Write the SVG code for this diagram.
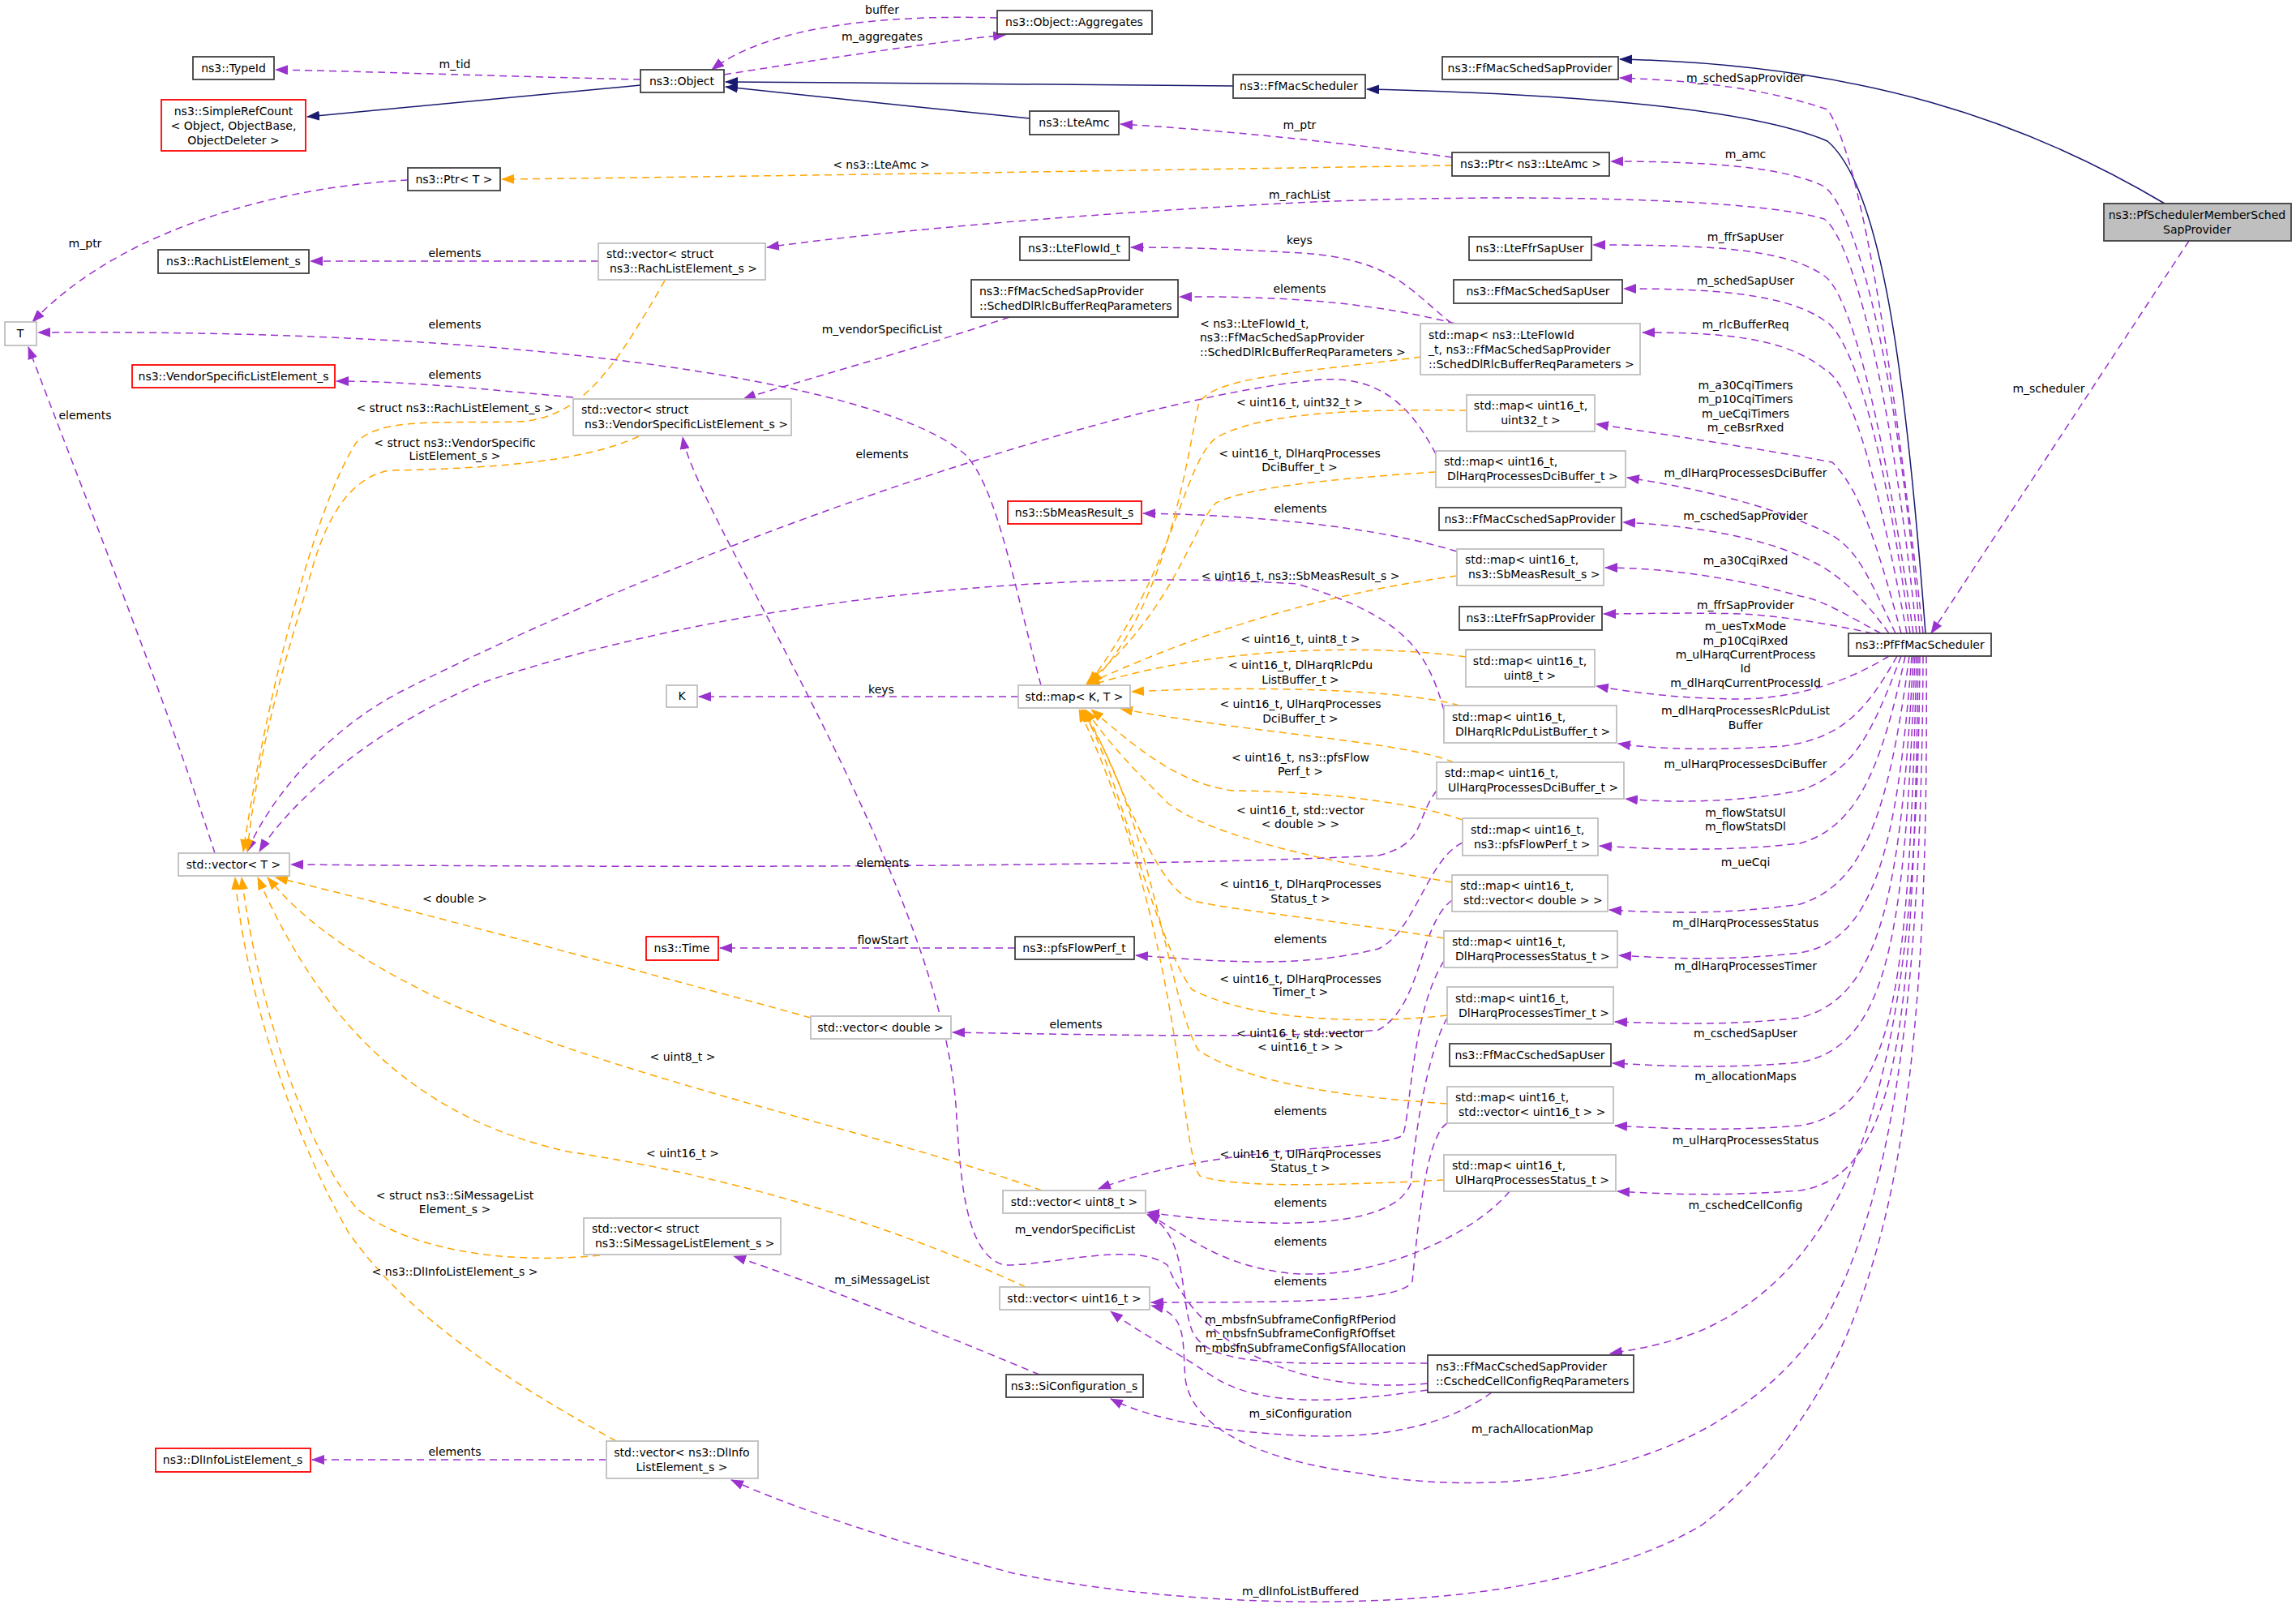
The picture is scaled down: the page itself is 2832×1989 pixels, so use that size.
<svg xmlns="http://www.w3.org/2000/svg" width="2832" height="1989" viewBox="0 0 2832 1989">
<style>
text{font-family:"DejaVu Sans",sans-serif;font-size:14px;fill:#000;text-anchor:middle}
.l{text-anchor:start}
rect{fill:#fff;stroke-width:1.8}
.b rect{stroke:#404040}
.g rect{stroke:#bfbfbf}
.r rect{stroke:#ff0000}
.e path{fill:none;stroke-width:1.5;stroke-dasharray:9,6}
.e .p{stroke:#9a32cd;marker-end:url(#mp)}
.e .o{stroke:#ffa500;marker-end:url(#mo)}
.e .i{stroke:#191970;stroke-dasharray:none;marker-end:url(#mi)}
</style>
<defs>
<marker id="mp" markerUnits="userSpaceOnUse" markerWidth="16" markerHeight="12" refX="15" refY="6" orient="auto"><path d="M0,0L16,6L0,12z" fill="#9a32cd"/></marker>
<marker id="mo" markerUnits="userSpaceOnUse" markerWidth="16" markerHeight="12" refX="15" refY="6" orient="auto"><path d="M0,0L16,6L0,12z" fill="#ffa500"/></marker>
<marker id="mi" markerUnits="userSpaceOnUse" markerWidth="16" markerHeight="12" refX="15" refY="6" orient="auto"><path d="M0,0L16,6L0,12z" fill="#191970"/></marker>
</defs>
<rect x="0" y="0" width="2832" height="1989" style="fill:#fff;stroke:none"/>
<g id="edges" class="e">
<path class="i" d="M790,105 L379,144"/>
<path class="i" d="M1521,106 C1300,104 1100,102 895,101"/>
<path class="i" d="M1270,146 C1150,134 1000,118 895,107"/>
<path class="i" d="M2375,781 C2350,450 2320,230 2254,174 C2150,130 1900,115 1686,110"/>
<path class="i" d="M2670,251 C2500,150 2300,80 1998,73"/>
<path class="p" d="M2700,297 L2382,781"/>
<path class="p" d="M1791,194 C1650,175 1500,160 1382,153"/>
<path class="p" d="M2372,781 C2340,500 2300,200 2254,135 C2180,110 2100,100 1998,96"/>
<path class="p" d="M2368,781 C2340,450 2290,260 2250,230 C2200,205 2100,199 1987,199"/>
<path class="p" d="M2364,781 C2330,450 2280,290 2250,270 C2150,240 1800,240 1600,250 C1300,265 1050,290 946,305"/>
<path class="p" d="M2360,781 C2320,500 2280,360 2250,340 C2200,305 2100,302 1965,302"/>
<path class="p" d="M2356,781 C2320,520 2280,410 2250,395 C2200,360 2100,356 2003,356"/>
<path class="p" d="M2352,781 C2310,560 2280,470 2250,455 C2200,415 2120,410 2026,410"/>
<path class="p" d="M2345,781 C2310,650 2290,600 2260,570 C2180,555 2050,535 1969,523"/>
<path class="p" d="M2338,781 C2300,700 2290,680 2260,660 C2180,620 2080,600 2007,589"/>
<path class="p" d="M2330,781 C2300,740 2280,720 2250,700 C2180,660 2080,648 2002,644"/>
<path class="p" d="M2320,781 C2280,760 2250,740 2220,735 C2150,715 2060,700 1980,700"/>
<path class="p" d="M2310,781 C2260,770 2200,760 2150,757 C2080,755 2020,757 1978,757"/>
<path class="p" d="M2330,809 C2280,840 2220,860 2150,862 C2080,862 2020,855 1969,846"/>
<path class="p" d="M2340,809 C2300,880 2270,910 2200,920 C2120,925 2050,925 1996,917"/>
<path class="p" d="M2345,809 C2310,900 2290,950 2220,975 C2140,990 2060,990 2005,985"/>
<path class="p" d="M2350,809 C2320,950 2290,1020 2220,1040 C2130,1050 2050,1048 1973,1043"/>
<path class="p" d="M2355,809 C2330,1000 2300,1090 2220,1115 C2130,1128 2050,1126 1985,1122"/>
<path class="p" d="M2358,809 C2340,1050 2310,1160 2220,1175 C2130,1185 2060,1182 1997,1178"/>
<path class="p" d="M2360,809 C2345,1100 2320,1230 2220,1255 C2130,1265 2060,1262 1992,1260"/>
<path class="p" d="M2362,809 C2350,1150 2330,1290 2220,1310 C2130,1318 2060,1315 1989,1311"/>
<path class="p" d="M2364,809 C2355,1200 2340,1370 2220,1388 C2130,1395 2060,1392 1992,1388"/>
<path class="p" d="M2366,809 C2360,1250 2345,1450 2220,1468 C2130,1475 2060,1473 1995,1469"/>
<path class="p" d="M2368,809 C2365,1300 2300,1550 2100,1640 C2050,1660 2010,1665 1986,1669"/>
<path class="p" d="M2372,809 C2370,1300 2320,1500 2250,1630 C2100,1850 1800,1840 1680,1817 C1550,1800 1470,1760 1462,1700 C1458,1650 1465,1620 1420,1610"/>
<path class="p" d="M2376,809 C2380,1400 2330,1700 2100,1880 C1900,2000 1500,1990 1250,1940 C1100,1900 980,1860 902,1825"/>
<path class="p" d="M790,98 C650,95 450,88 340,86"/>
<path class="p" d="M893,92 C1000,75 1150,52 1240,43"/>
<path class="p" d="M1230,22 C1100,18 950,30 878,86"/>
<path class="p" d="M503,222 C350,230 150,280 40,397"/>
<path class="p" d="M738,322 L383,322"/>
<path class="p" d="M707,490 C600,480 500,470 415,470"/>
<path class="p" d="M1284,845 C1250,720 1230,600 1190,560 C1100,480 700,405 47,410"/>
<path class="p" d="M265,1052 C200,850 100,600 35,428"/>
<path class="p" d="M1771,560 C1740,500 1700,460 1620,469 C1400,490 900,650 500,850 C400,900 330,990 305,1050"/>
<path class="p" d="M1781,876 C1760,800 1730,760 1600,720 C1300,700 900,740 600,840 C450,900 350,1000 320,1050"/>
<path class="p" d="M1772,975 C1745,1010 1760,1040 1700,1055 C1400,1070 800,1070 359,1066"/>
<path class="p" d="M1791,399 C1740,360 1720,320 1606,312 C1500,306 1450,305 1395,305"/>
<path class="p" d="M1795,399 C1700,375 1600,365 1455,366"/>
<path class="p" d="M1245,391 C1100,440 950,480 917,492"/>
<path class="p" d="M1797,680 C1700,650 1550,635 1410,633"/>
<path class="p" d="M1804,1039 C1760,1060 1745,1150 1700,1170 C1600,1195 1500,1185 1401,1178"/>
<path class="p" d="M1791,1110 C1750,1140 1755,1240 1700,1270 C1600,1282 1300,1275 1175,1273"/>
<path class="p" d="M1781,1185 C1740,1250 1740,1380 1730,1400 C1700,1420 1500,1410 1355,1466"/>
<path class="p" d="M1785,1255 C1760,1300 1745,1400 1740,1460 C1720,1510 1600,1520 1415,1495"/>
<path class="p" d="M1862,1469 C1820,1520 1700,1580 1590,1570 C1500,1560 1460,1520 1415,1497"/>
<path class="p" d="M1785,1385 C1760,1400 1750,1500 1742,1580 C1730,1605 1600,1606 1420,1606"/>
<path class="p" d="M1761,1706 C1600,1720 1480,1660 1440,1560 C1400,1530 1300,1560 1240,1560 C1190,1550 1185,1450 1180,1380 C1170,1100 860,640 842,539"/>
<path class="p" d="M1761,1681 C1600,1680 1490,1690 1470,1640 C1455,1600 1465,1520 1415,1498"/>
<path class="p" d="M1761,1714 C1650,1730 1560,1735 1500,1700 C1440,1660 1400,1640 1370,1617"/>
<path class="p" d="M1282,1695 C1150,1640 1000,1580 905,1549"/>
<path class="p" d="M1840,1717 C1780,1760 1700,1775 1600,1770 C1500,1765 1420,1750 1370,1725"/>
<path class="p" d="M1252,1169 L888,1169"/>
<path class="p" d="M748,1800 L385,1800"/>
<path class="p" d="M1256,859 L862,859"/>
<path class="o" d="M1791,204 C1400,210 900,218 619,221"/>
<path class="o" d="M820,346 C760,450 720,515 640,520 C540,522 470,515 440,545 C390,620 330,850 300,1050"/>
<path class="o" d="M788,538 C720,570 600,578 480,580 C430,590 400,640 380,720 C340,850 315,950 305,1050"/>
<path class="o" d="M1753,440 C1600,460 1490,465 1478,500 C1465,560 1440,750 1345,843"/>
<path class="o" d="M1809,506 C1700,505 1560,505 1500,540 C1460,570 1450,700 1343,843"/>
<path class="o" d="M1771,582 C1650,590 1540,600 1500,620 C1470,650 1450,750 1340,843"/>
<path class="o" d="M1797,710 C1650,730 1500,770 1340,844"/>
<path class="o" d="M1808,810 C1700,795 1500,795 1342,846"/>
<path class="o" d="M1800,870 C1730,850 1550,845 1396,853"/>
<path class="o" d="M1793,940 C1735,915 1550,905 1382,874"/>
<path class="o" d="M1804,1011 C1730,985 1600,975 1520,975 C1450,965 1400,920 1346,875"/>
<path class="o" d="M1791,1088 C1650,1065 1500,1035 1440,990 C1400,950 1370,920 1339,875"/>
<path class="o" d="M1781,1157 C1650,1135 1500,1120 1470,1110 C1420,1090 1380,950 1337,875"/>
<path class="o" d="M1785,1252 C1700,1262 1550,1262 1470,1220 C1420,1150 1380,950 1335,875"/>
<path class="o" d="M1785,1361 C1650,1352 1540,1335 1478,1295 C1440,1230 1420,1000 1333,875"/>
<path class="o" d="M1781,1455 C1650,1462 1520,1465 1480,1450 C1455,1420 1460,1150 1331,875"/>
<path class="o" d="M1000,1255 C800,1200 500,1120 340,1082"/>
<path class="o" d="M1285,1468 C1100,1400 800,1340 560,1240 C430,1180 370,1130 330,1082"/>
<path class="o" d="M1265,1587 C1100,1510 900,1450 700,1420 C520,1380 400,1270 318,1082"/>
<path class="o" d="M740,1548 C620,1560 500,1540 440,1490 C380,1420 320,1250 298,1082"/>
<path class="o" d="M760,1777 C620,1700 500,1620 430,1520 C350,1380 300,1200 290,1082"/>
</g>
<g id="labels">
<text x="2153" y="101">m_schedSapProvider</text>
<text x="2153" y="195">m_amc</text>
<text x="1603" y="245">m_rachList</text>
<text x="2153" y="297">m_ffrSapUser</text>
<text x="2153" y="351">m_schedSapUser</text>
<text x="2153" y="405">m_rlcBufferReq</text>
<text x="2153" y="480">m_a30CqiTimers</text>
<text x="2153" y="497">m_p10CqiTimers</text>
<text x="2153" y="515">m_ueCqiTimers</text>
<text x="2153" y="532">m_ceBsrRxed</text>
<text x="2153" y="588">m_dlHarqProcessesDciBuffer</text>
<text x="2153" y="641">m_cschedSapProvider</text>
<text x="2153" y="696">m_a30CqiRxed</text>
<text x="2153" y="751">m_ffrSapProvider</text>
<text x="2153" y="777">m_uesTxMode</text>
<text x="2153" y="795">m_p10CqiRxed</text>
<text x="2153" y="812">m_ulHarqCurrentProcess</text>
<text x="2153" y="829">Id</text>
<text x="2153" y="847">m_dlHarqCurrentProcessId</text>
<text x="2153" y="881">m_dlHarqProcessesRlcPduList</text>
<text x="2153" y="899">Buffer</text>
<text x="2153" y="947">m_ulHarqProcessesDciBuffer</text>
<text x="2153" y="1007">m_flowStatsUl</text>
<text x="2153" y="1024">m_flowStatsDl</text>
<text x="2153" y="1068">m_ueCqi</text>
<text x="2153" y="1143">m_dlHarqProcessesStatus</text>
<text x="2153" y="1196">m_dlHarqProcessesTimer</text>
<text x="2153" y="1279">m_cschedSapUser</text>
<text x="2153" y="1332">m_allocationMaps</text>
<text x="2153" y="1411">m_ulHarqProcessesStatus</text>
<text x="2153" y="1491">m_cschedCellConfig</text>
<text x="2527" y="484">m_scheduler</text>
<text x="1890" y="1767">m_rachAllocationMap</text>
<text x="1604" y="1967">m_dlInfoListBuffered</text>
<text x="1604" y="1748">m_siConfiguration</text>
<text x="1604" y="1632">m_mbsfnSubframeConfigRfPeriod</text>
<text x="1604" y="1649">m_mbsfnSubframeConfigRfOffset</text>
<text x="1604" y="1667">m_mbsfnSubframeConfigSfAllocation</text>
<text x="1326" y="1521">m_vendorSpecificList</text>
<text x="1604" y="1488">elements</text>
<text x="1604" y="1536">elements</text>
<text x="1604" y="1585">elements</text>
<text x="1604" y="1375">elements</text>
<text x="1327" y="1268">elements</text>
<text x="1604" y="1163">elements</text>
<text x="1604" y="632">elements</text>
<text x="1088" y="565">elements</text>
<text x="1088" y="411">m_vendorSpecificList</text>
<text x="1603" y="361">elements</text>
<text x="1603" y="301">keys</text>
<text x="1603" y="159">m_ptr</text>
<text x="1087" y="208">&lt; ns3::LteAmc &gt;</text>
<text x="1088" y="17">buffer</text>
<text x="1088" y="50">m_aggregates</text>
<text x="561" y="84">m_tid</text>
<text x="105" y="305">m_ptr</text>
<text x="561" y="317">elements</text>
<text x="561" y="405">elements</text>
<text x="561" y="467">elements</text>
<text x="105" y="517">elements</text>
<text x="561" y="508">&lt; struct ns3::RachListElement_s &gt;</text>
<text x="561" y="551">&lt; struct ns3::VendorSpecific</text>
<text x="561" y="567">ListElement_s &gt;</text>
<text x="1089" y="1069">elements</text>
<text x="1087" y="855">keys</text>
<text x="561" y="1113">&lt; double &gt;</text>
<text x="1089" y="1164">flowStart</text>
<text x="842" y="1308">&lt; uint8_t &gt;</text>
<text x="842" y="1427">&lt; uint16_t &gt;</text>
<text x="561" y="1479">&lt; struct ns3::SiMessageList</text>
<text x="561" y="1496">Element_s &gt;</text>
<text x="561" y="1573">&lt; ns3::DlInfoListElement_s &gt;</text>
<text x="1088" y="1583">m_siMessageList</text>
<text x="561" y="1795">elements</text>
<text class="l" x="1480" y="404">&lt; ns3::LteFlowId_t,</text>
<text class="l" x="1480" y="421">ns3::FfMacSchedSapProvider</text>
<text class="l" x="1480" y="439">::SchedDlRlcBufferReqParameters &gt;</text>
<text x="1603" y="501">&lt; uint16_t, uint32_t &gt;</text>
<text x="1603" y="564">&lt; uint16_t, DlHarqProcesses</text>
<text x="1603" y="581">DciBuffer_t &gt;</text>
<text x="1604" y="715">&lt; uint16_t, ns3::SbMeasResult_s &gt;</text>
<text x="1604" y="793">&lt; uint16_t, uint8_t &gt;</text>
<text x="1604" y="825">&lt; uint16_t, DlHarqRlcPdu</text>
<text x="1604" y="843">ListBuffer_t &gt;</text>
<text x="1604" y="873">&lt; uint16_t, UlHarqProcesses</text>
<text x="1604" y="891">DciBuffer_t &gt;</text>
<text x="1604" y="939">&lt; uint16_t, ns3::pfsFlow</text>
<text x="1604" y="956">Perf_t &gt;</text>
<text x="1604" y="1004">&lt; uint16_t, std::vector</text>
<text x="1604" y="1021">&lt; double &gt; &gt;</text>
<text x="1604" y="1095">&lt; uint16_t, DlHarqProcesses</text>
<text x="1604" y="1113">Status_t &gt;</text>
<text x="1604" y="1212">&lt; uint16_t, DlHarqProcesses</text>
<text x="1604" y="1228">Timer_t &gt;</text>
<text x="1604" y="1279">&lt; uint16_t, std::vector</text>
<text x="1604" y="1296">&lt; uint16_t &gt; &gt;</text>
<text x="1604" y="1428">&lt; uint16_t, UlHarqProcesses</text>
<text x="1604" y="1445">Status_t &gt;</text>
</g>
<g id="TypeId" class="b"><rect x="238" y="70" width="100" height="28"/><text x="288" y="89">ns3::TypeId</text></g>
<g id="SimpleRefCount" class="r"><rect x="199" y="123" width="178" height="63"/><text x="288" y="142">ns3::SimpleRefCount</text><text x="288" y="160">&lt; Object, ObjectBase,</text><text x="288" y="178">ObjectDeleter &gt;</text></g>
<g id="Object" class="b"><rect x="790" y="86" width="103" height="28"/><text x="841" y="105">ns3::Object</text></g>
<g id="Aggregates" class="b"><rect x="1230" y="13" width="191" height="29"/><text x="1325" y="32">ns3::Object::Aggregates</text></g>
<g id="FfMacScheduler" class="b"><rect x="1521" y="92" width="163" height="29"/><text x="1602" y="111">ns3::FfMacScheduler</text></g>
<g id="LteAmc" class="b"><rect x="1270" y="137" width="110" height="29"/><text x="1325" y="156">ns3::LteAmc</text></g>
<g id="PtrLteAmc" class="b"><rect x="1791" y="188" width="194" height="29"/><text x="1888" y="207">ns3::Ptr&lt; ns3::LteAmc &gt;</text></g>
<g id="FfMacSchedSapProvider" class="b"><rect x="1779" y="70" width="217" height="28"/><text x="1887" y="89">ns3::FfMacSchedSapProvider</text></g>
<g id="PtrT" class="b"><rect x="503" y="207" width="114" height="28"/><text x="560" y="226">ns3::Ptr&lt; T &gt;</text></g>
<g id="RachElem" class="b"><rect x="195" y="308" width="186" height="29"/><text x="288" y="327">ns3::RachListElement_s</text></g>
<g id="VecRach" class="g"><rect x="738" y="300" width="206" height="45"/><text class="l" x="748" y="318">std::vector&lt; struct</text><text class="l" x="752" y="336">ns3::RachListElement_s &gt;</text></g>
<g id="T" class="g"><rect x="6" y="397" width="39" height="29"/><text x="25" y="416">T</text></g>
<g id="VendorElem" class="r"><rect x="163" y="450" width="250" height="28"/><text x="288" y="469">ns3::VendorSpecificListElement_s</text></g>
<g id="VecVendor" class="g"><rect x="707" y="492" width="269" height="45"/><text class="l" x="717" y="510">std::vector&lt; struct</text><text class="l" x="721" y="528">ns3::VendorSpecificListElement_s &gt;</text></g>
<g id="LteFlowId" class="b"><rect x="1258" y="292" width="135" height="29"/><text x="1325" y="311">ns3::LteFlowId_t</text></g>
<g id="SchedDlRlc" class="b"><rect x="1198" y="345" width="255" height="46"/><text class="l" x="1208" y="364">ns3::FfMacSchedSapProvider</text><text class="l" x="1208" y="382">::SchedDlRlcBufferReqParameters</text></g>
<g id="LteFfrSapUser" class="b"><rect x="1812" y="292" width="151" height="29"/><text x="1887" y="311">ns3::LteFfrSapUser</text></g>
<g id="FfMacSchedSapUser" class="b"><rect x="1793" y="345" width="208" height="29"/><text x="1897" y="364">ns3::FfMacSchedSapUser</text></g>
<g id="MapLteFlowId" class="g"><rect x="1752" y="399" width="271" height="63"/><text class="l" x="1762" y="418">std::map&lt; ns3::LteFlowId</text><text class="l" x="1762" y="436">_t, ns3::FfMacSchedSapProvider</text><text class="l" x="1762" y="454">::SchedDlRlcBufferReqParameters &gt;</text></g>
<g id="MapU32" class="g"><rect x="1809" y="487" width="158" height="45"/><text x="1888" y="505">std::map&lt; uint16_t,</text><text x="1888" y="523">uint32_t &gt;</text></g>
<g id="MapDlDci" class="g"><rect x="1771" y="556" width="234" height="45"/><text class="l" x="1781" y="574">std::map&lt; uint16_t,</text><text class="l" x="1785" y="592">DlHarqProcessesDciBuffer_t &gt;</text></g>
<g id="SbMeas" class="r"><rect x="1243" y="618" width="165" height="28"/><text x="1325" y="637">ns3::SbMeasResult_s</text></g>
<g id="FfMacCschedSapProvider" class="b"><rect x="1775" y="626" width="225" height="28"/><text x="1887" y="645">ns3::FfMacCschedSapProvider</text></g>
<g id="MapSbMeas" class="g"><rect x="1797" y="677" width="181" height="45"/><text class="l" x="1807" y="695">std::map&lt; uint16_t,</text><text class="l" x="1811" y="713">ns3::SbMeasResult_s &gt;</text></g>
<g id="PfMember"><rect x="2595" y="251" width="231" height="46" style="fill:#bfbfbf;stroke:#404040"/><text x="2710" y="270">ns3::PfSchedulerMemberSched</text><text x="2710" y="288">SapProvider</text></g>
<g id="PfFf" class="b"><rect x="2280" y="781" width="176" height="28"/><text x="2368" y="800">ns3::PfFfMacScheduler</text></g>
<g id="LteFfrSapProvider" class="b"><rect x="1800" y="748" width="176" height="29"/><text x="1888" y="767">ns3::LteFfrSapProvider</text></g>
<g id="MapU8" class="g"><rect x="1808" y="801" width="159" height="46"/><text x="1887" y="820">std::map&lt; uint16_t,</text><text x="1887" y="838">uint8_t &gt;</text></g>
<g id="MapK" class="g"><rect x="1256" y="845" width="138" height="28"/><text x="1325" y="864">std::map&lt; K, T &gt;</text></g>
<g id="MapRlcPdu" class="g"><rect x="1781" y="870" width="213" height="46"/><text class="l" x="1791" y="889">std::map&lt; uint16_t,</text><text class="l" x="1795" y="907">DlHarqRlcPduListBuffer_t &gt;</text></g>
<g id="MapUlDci" class="g"><rect x="1772" y="940" width="231" height="45"/><text class="l" x="1782" y="958">std::map&lt; uint16_t,</text><text class="l" x="1786" y="976">UlHarqProcessesDciBuffer_t &gt;</text></g>
<g id="MapPfs" class="g"><rect x="1804" y="1009" width="167" height="46"/><text class="l" x="1814" y="1028">std::map&lt; uint16_t,</text><text class="l" x="1818" y="1046">ns3::pfsFlowPerf_t &gt;</text></g>
<g id="MapVecD" class="g"><rect x="1791" y="1079" width="192" height="45"/><text class="l" x="1801" y="1097">std::map&lt; uint16_t,</text><text class="l" x="1805" y="1115">std::vector&lt; double &gt; &gt;</text></g>
<g id="PfsFlowPerf" class="b"><rect x="1252" y="1155" width="147" height="28"/><text x="1325" y="1174">ns3::pfsFlowPerf_t</text></g>
<g id="MapDlStatus" class="g"><rect x="1781" y="1148" width="214" height="45"/><text class="l" x="1791" y="1166">std::map&lt; uint16_t,</text><text class="l" x="1795" y="1184">DlHarqProcessesStatus_t &gt;</text></g>
<g id="MapDlTimer" class="g"><rect x="1785" y="1217" width="205" height="46"/><text class="l" x="1795" y="1236">std::map&lt; uint16_t,</text><text class="l" x="1799" y="1254">DlHarqProcessesTimer_t &gt;</text></g>
<g id="FfMacCschedSapUser" class="b"><rect x="1788" y="1287" width="199" height="28"/><text x="1887" y="1306">ns3::FfMacCschedSapUser</text></g>
<g id="MapVecU16" class="g"><rect x="1785" y="1340" width="205" height="45"/><text class="l" x="1795" y="1358">std::map&lt; uint16_t,</text><text class="l" x="1799" y="1376">std::vector&lt; uint16_t &gt; &gt;</text></g>
<g id="MapUlStatus" class="g"><rect x="1781" y="1424" width="212" height="45"/><text class="l" x="1791" y="1442">std::map&lt; uint16_t,</text><text class="l" x="1795" y="1460">UlHarqProcessesStatus_t &gt;</text></g>
<g id="VecU8" class="g"><rect x="1237" y="1468" width="176" height="28"/><text x="1325" y="1487">std::vector&lt; uint8_t &gt;</text></g>
<g id="VecU16" class="g"><rect x="1233" y="1587" width="185" height="28"/><text x="1325" y="1606">std::vector&lt; uint16_t &gt;</text></g>
<g id="CschedCellConfig" class="b"><rect x="1761" y="1671" width="254" height="46"/><text class="l" x="1771" y="1690">ns3::FfMacCschedSapProvider</text><text class="l" x="1771" y="1708">::CschedCellConfigReqParameters</text></g>
<g id="SiConfig" class="b"><rect x="1241" y="1695" width="169" height="28"/><text x="1325" y="1714">ns3::SiConfiguration_s</text></g>
<g id="VecT" class="g"><rect x="220" y="1052" width="137" height="28"/><text x="288" y="1071">std::vector&lt; T &gt;</text></g>
<g id="Time" class="r"><rect x="797" y="1155" width="89" height="29"/><text x="841" y="1174">ns3::Time</text></g>
<g id="VecDouble" class="g"><rect x="1000" y="1253" width="173" height="28"/><text x="1086" y="1272">std::vector&lt; double &gt;</text></g>
<g id="VecSiMsg" class="g"><rect x="720" y="1502" width="243" height="45"/><text class="l" x="730" y="1520">std::vector&lt; struct</text><text class="l" x="734" y="1538">ns3::SiMessageListElement_s &gt;</text></g>
<g id="VecDlInfo" class="g"><rect x="748" y="1777" width="187" height="46"/><text x="841" y="1796">std::vector&lt; ns3::DlInfo</text><text x="841" y="1814">ListElement_s &gt;</text></g>
<g id="DlInfoElem" class="r"><rect x="192" y="1786" width="191" height="29"/><text x="287" y="1805">ns3::DlInfoListElement_s</text></g>
<g id="K" class="g"><rect x="822" y="845" width="38" height="27"/><text x="841" y="863">K</text></g>
</svg>
